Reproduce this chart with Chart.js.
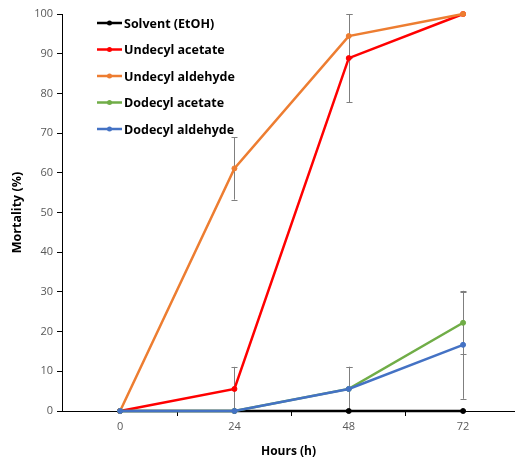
<!DOCTYPE html>
<html>
<head>
<meta charset="utf-8">
<script src="https://cdn.jsdelivr.net/npm/chart.js@4.4.1/dist/chart.umd.min.js"></script>
<style>
  html, body { margin: 0; padding: 0; background: #fff; overflow: hidden; }
  #wrap { width: 515px; height: 459px; }
</style>
</head>
<body>
<div id="wrap"><canvas id="chart" width="515" height="459"></canvas></div>
<script>
// Sampling times (hours)
const hours = [0, 24, 48, 72];
const hourTicks = [0, 24, 48, 72];

// Mortality (%) per treatment
const solvent = [0, 0, 0, 0];
const undecylAcetate = [0, 5.56, 88.89, 100];
const undecylAldehyde = [0, 61.11, 94.44, 100];
const dodecylAcetate = [0, 0, 5.56, 22.22];
const dodecylAldehyde = [0, 0, 5.56, 16.67];

// Error (±) per treatment
const solventErr = [0, 0, 0, 0];
const undecylAcetateErr = [0, 5.56, 11.11, 0];
const undecylAldehydeErr = [0, 7.86, 5.56, 0];
const dodecylAcetateErr = [0, 0, 5.56, 7.86];
const dodecylAldehydeErr = [0, 0, 5.56, 13.6];

const yTicks = [0, 10, 20, 30, 40, 50, 60, 70, 80, 90, 100];

const FONT = "'Open Sans', 'Noto Sans', sans-serif";

function series(label, values, errs, color, order) {
  return {
    label,
    data: hours.map((h, i) => ({ x: h, y: values[i] })),
    errors: errs,
    borderColor: color,
    backgroundColor: color,
    pointBackgroundColor: color,
    pointBorderColor: color,
    borderWidth: 2.5,
    pointRadius: 2.5,
    pointBorderWidth: 1,
    pointHoverRadius: 2.5,
    tension: 0,
    clip: false,
    order
  };
}

const datasets = [
  series('Solvent (EtOH)', solvent, solventErr, '#000000', 5),
  series('Undecyl acetate', undecylAcetate, undecylAcetateErr, '#FF0000', 4),
  series('Undecyl aldehyde', undecylAldehyde, undecylAldehydeErr, '#ED7D31', 3),
  series('Dodecyl acetate', dodecylAcetate, dodecylAcetateErr, '#70AD47', 2),
  series('Dodecyl aldehyde', dodecylAldehyde, dodecylAldehydeErr, '#4472C4', 1)
];

// Vertical error bars with small caps, drawn under the lines
const errorBars = {
  id: 'errorBars',
  beforeDatasetsDraw(chart) {
    const { ctx, scales: { x, y } } = chart;
    ctx.save();
    ctx.strokeStyle = '#7F7F7F';
    ctx.lineWidth = 1;
    chart.data.datasets.forEach(ds => {
      ds.data.forEach((p, i) => {
        const e = ds.errors[i];
        if (!e) return;
        const px = Math.round(x.getPixelForValue(p.x)) + 0.5;
        const top = y.getPixelForValue(Math.min(100, p.y + e));
        const bot = y.getPixelForValue(Math.max(0, p.y - e));
        ctx.beginPath();
        ctx.moveTo(px, top); ctx.lineTo(px, bot);
        ctx.moveTo(px - 3, Math.round(top) + 0.5); ctx.lineTo(px + 3, Math.round(top) + 0.5);
        ctx.moveTo(px - 3, Math.round(bot) + 0.5); ctx.lineTo(px + 3, Math.round(bot) + 0.5);
        ctx.stroke();
      });
    });
    ctx.restore();
  }
};

// Legend list inside the plot, upper left
const insideLegend = {
  id: 'insideLegend',
  afterDraw(chart) {
    const { ctx } = chart;
    const x0 = 97, x1 = 122, y0 = 23, step = 26.5;
    ctx.save();
    ctx.font = 'bold 12.5px ' + FONT;
    ctx.textBaseline = 'middle';
    ctx.textAlign = 'left';
    chart.data.datasets.forEach((ds, i) => {
      const yy = y0 + i * step;
      ctx.strokeStyle = ds.borderColor;
      ctx.lineWidth = 2.5;
      ctx.beginPath();
      ctx.moveTo(x0, yy); ctx.lineTo(x1, yy);
      ctx.stroke();
      ctx.fillStyle = ds.borderColor;
      ctx.beginPath();
      ctx.arc((x0 + x1) / 2, yy, 2.5, 0, Math.PI * 2);
      ctx.fill();
      ctx.fillStyle = '#000000';
      ctx.fillText(ds.label, x1 + 2, yy + 1);
    });
    ctx.restore();
  }
};

new Chart(document.getElementById('chart'), {
  type: 'line',
  data: { datasets },
  plugins: [errorBars, insideLegend],
  options: {
    responsive: false,
    animation: false,
    layout: { autoPadding: false, padding: { top: 14, right: 0, left: 0, bottom: 0 } },
    plugins: { legend: { display: false }, tooltip: { enabled: false } },
    scales: {
      x: {
        type: 'linear',
        min: -12.2,
        max: 82.9,
        afterBuildTicks(scale) {
          const t = [];
          for (let v = -12; v <= 72; v += 12) t.push({ value: v });
          scale.ticks = t;
        },
        afterFit(scale) {
          scale.height = 48;
          scale.paddingLeft = 0;
          scale.paddingRight = 0;
        },
        border: { display: true, color: '#000000', width: 1 },
        grid: {
          display: true,
          drawOnChartArea: false,
          drawTicks: true,
          tickLength: 5,
          tickColor: c => (hourTicks.includes(c.tick.value) || c.tick.value < 0 ? 'rgba(0,0,0,0)' : '#000000')
        },
        ticks: {
          autoSkip: false,
          maxRotation: 0,
          padding: 4,
          color: '#595959',
          font: { family: FONT, size: 11 },
          callback: v => (hourTicks.includes(v) ? String(v) : '')
        },
        title: {
          display: true,
          text: 'Hours (h)',
          color: '#000000',
          font: { family: FONT, size: 12, weight: 'bold' },
          padding: { top: 0, bottom: 0 }
        }
      },
      y: {
        type: 'linear',
        min: 0,
        max: 100,
        afterBuildTicks(scale) { scale.ticks = yTicks.map(v => ({ value: v })); },
        afterFit(scale) { scale.width = 62; },
        border: { display: true, color: '#000000', width: 1 },
        grid: {
          display: true,
          drawOnChartArea: false,
          drawTicks: true,
          tickLength: 5,
          tickColor: '#000000'
        },
        ticks: {
          padding: 4,
          color: '#595959',
          font: { family: FONT, size: 11 }
        },
        title: {
          display: true,
          text: 'Mortality (%)',
          color: '#000000',
          font: { family: FONT, size: 12.5, weight: 'bold' },
          padding: { top: 10, bottom: 0 }
        }
      }
    }
  }
});
</script>
</body>
</html>
